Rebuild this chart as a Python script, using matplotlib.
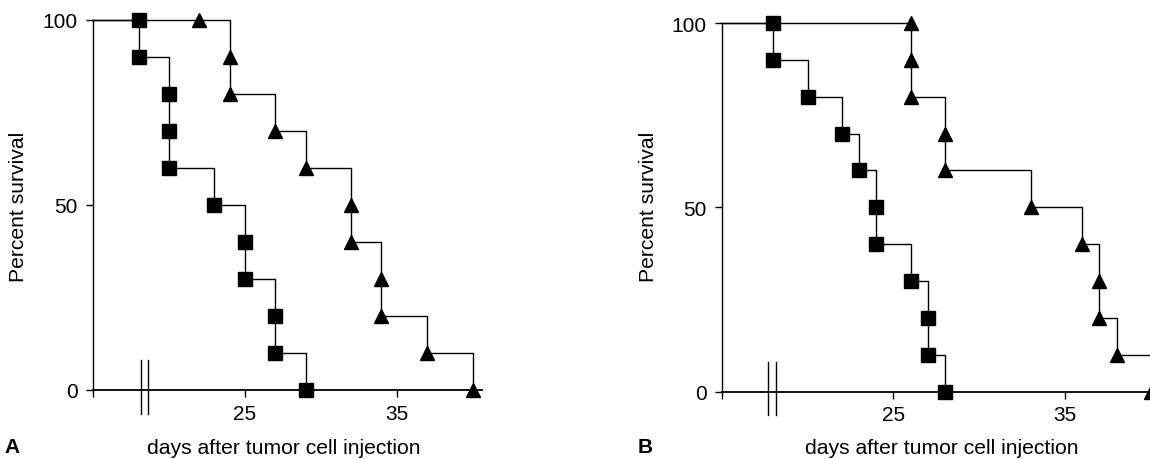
import matplotlib.pyplot as plt

plt.rcParams['font.family'] = ['Liberation Sans', 'DejaVu Sans']

# Panel A: survival (%), one entry per plotted symbol
a_sq_days = [18, 18, 20, 20, 20, 23, 25, 25, 27, 27, 29]
a_sq_surv = [100, 90, 80, 70, 60, 50, 40, 30, 20, 10, 0]
a_tri_days = [22, 24, 24, 27, 29, 32, 32, 34, 34, 37, 40]
a_tri_surv = [100, 90, 80, 70, 60, 50, 40, 30, 20, 10, 0]

# Panel B
b_sq_days = [18, 18, 20, 22, 23, 24, 24, 26, 27, 27, 28]
b_sq_surv = [100, 90, 80, 70, 60, 50, 40, 30, 20, 10, 0]
b_tri_days = [26, 26, 26, 28, 28, 33, 36, 37, 37, 38, 40]
b_tri_surv = [100, 90, 80, 70, 60, 50, 40, 30, 20, 10, 0]

start_day = 15
x_ticks = [15, 25, 35]
x_tick_labels = ['', '25', '35']
y_ticks = [0, 50, 100]
y_tick_labels = ['0', '50', '100']

W, H = 1150, 460
fig = plt.figure(figsize=(W / 100, H / 100), dpi=100)


def draw_panel(ax, curves, xmax, brk):
    for days, surv, marker, ms in curves:
        ax.step([start_day] + days, [100] + surv, where='post',
                color='black', lw=1.0, clip_on=False, zorder=2)
        ax.plot(days, surv, linestyle='none', marker=marker, ms=ms,
                color='black', mec='black', clip_on=False, zorder=3)
    # axis break marks
    for xb in brk:
        ax.plot([xb, xb], [-6.5, 8], color='black', lw=1.0, clip_on=False)
    ax.set_xlim(start_day, xmax)
    ax.set_ylim(0, 100)
    ax.spines['top'].set_visible(False)
    ax.spines['right'].set_visible(False)
    ax.spines['left'].set_linewidth(1.0)
    ax.spines['bottom'].set_linewidth(1.3)
    ax.set_xticks(x_ticks)
    ax.set_xticklabels(x_tick_labels)
    ax.set_yticks(y_ticks)
    ax.set_yticklabels(y_tick_labels)
    ax.tick_params(axis='both', direction='out', length=5, width=1.0,
                   labelsize=15, colors='black')
    ax.tick_params(axis='y', pad=6)
    ax.tick_params(axis='x', pad=5)
    ax.patch.set_visible(False)


axA = fig.add_axes([93 / W, (H - 390.7) / H, 388.7 / W, 369.7 / H])
draw_panel(axA, [(a_sq_days, a_sq_surv, 's', 9.5),
                 (a_tri_days, a_tri_surv, '^', 9.5)], 40.6, [18.15, 18.65])

axB = fig.add_axes([721.7 / W, (H - 392.5) / H, 25.5 * 17.17 / W, 368.5 / H])
draw_panel(axB, [(b_sq_days, b_sq_surv, 's', 9.5),
                 (b_tri_days, b_tri_surv, '^', 9.5)], 40.5, [17.7, 18.15])

# labels
for xc, yl_x in [(283.7, 18.3), (941.6, 648)]:
    fig.text(xc / W, 1 - 449 / H, 'days after tumor cell injection',
             ha='center', va='center', fontsize=15.2)
    fig.text(yl_x / W, 1 - 207 / H, 'Percent survival', rotation=90,
             ha='center', va='center', fontsize=15.2)

fig.text(4 / W, 1 - 448 / H, 'A', fontsize=15, fontweight='bold', va='center')
fig.text(638 / W, 1 - 448 / H, 'B', fontsize=15, fontweight='bold', va='center')

fig.savefig('out.png', dpi=100)
